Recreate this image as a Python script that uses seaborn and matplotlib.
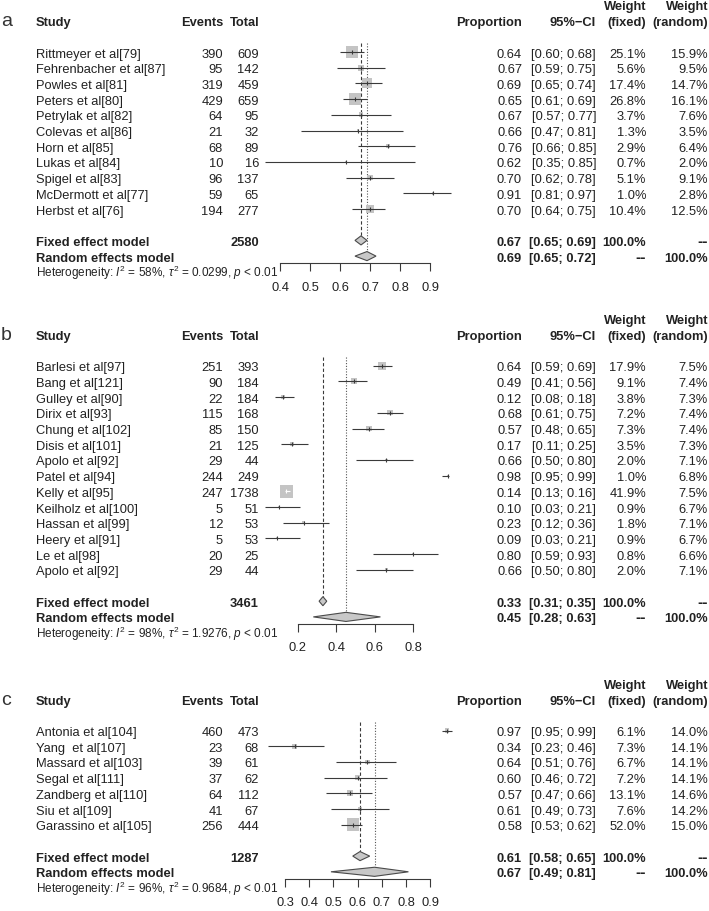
import numpy as np
import pandas as pd
import seaborn as sns
import matplotlib.pyplot as plt
import matplotlib.transforms as mtransforms

# ---------------- panel a ----------------
a_study = ["Rittmeyer et al[79]", "Fehrenbacher et al[87]", "Powles et al[81]", "Peters et al[80]",
           "Petrylak et al[82]", "Colevas et al[86]", "Horn et al[85]", "Lukas et al[84]",
           "Spigel et al[83]", "McDermott et al[77]", "Herbst et al[76]"]
a_events = [390, 95, 319, 429, 64, 21, 68, 10, 96, 59, 194]
a_total = [609, 142, 459, 659, 95, 32, 89, 16, 137, 65, 277]
a_prop = [0.64, 0.67, 0.69, 0.65, 0.67, 0.66, 0.76, 0.62, 0.70, 0.91, 0.70]
a_lo = [0.60, 0.59, 0.65, 0.61, 0.57, 0.47, 0.66, 0.35, 0.62, 0.81, 0.64]
a_hi = [0.68, 0.75, 0.74, 0.69, 0.77, 0.81, 0.85, 0.85, 0.78, 0.97, 0.75]
a_wfix = [25.1, 5.6, 17.4, 26.8, 3.7, 1.3, 2.9, 0.7, 5.1, 1.0, 10.4]
a_wran = [15.9, 9.5, 14.7, 16.1, 7.6, 3.5, 6.4, 2.0, 9.1, 2.8, 12.5]
a_fixed = [0.67, 0.65, 0.69]
a_random = [0.69, 0.65, 0.72]
a_n = 2580
a_het = r"Heterogeneity: $I^2$ = 58%, $\tau^2$ = 0.0299, $p$ < 0.01"
a_ticks = [0.4, 0.5, 0.6, 0.7, 0.8, 0.9]

# ---------------- panel b ----------------
b_study = ["Barlesi et al[97]", "Bang et al[121]", "Gulley et al[90]", "Dirix et al[93]",
           "Chung et al[102]", "Disis et al[101]", "Apolo et al[92]", "Patel et al[94]",
           "Kelly et al[95]", "Keilholz et al[100]", "Hassan et al[99]", "Heery et al[91]",
           "Le et al[98]", "Apolo et al[92]"]
b_events = [251, 90, 22, 115, 85, 21, 29, 244, 247, 5, 12, 5, 20, 29]
b_total = [393, 184, 184, 168, 150, 125, 44, 249, 1738, 51, 53, 53, 25, 44]
b_prop = [0.64, 0.49, 0.12, 0.68, 0.57, 0.17, 0.66, 0.98, 0.14, 0.10, 0.23, 0.09, 0.80, 0.66]
b_lo = [0.59, 0.41, 0.08, 0.61, 0.48, 0.11, 0.50, 0.95, 0.13, 0.03, 0.12, 0.03, 0.59, 0.50]
b_hi = [0.69, 0.56, 0.18, 0.75, 0.65, 0.25, 0.80, 0.99, 0.16, 0.21, 0.36, 0.21, 0.93, 0.80]
b_wfix = [17.9, 9.1, 3.8, 7.2, 7.3, 3.5, 2.0, 1.0, 41.9, 0.9, 1.8, 0.9, 0.8, 2.0]
b_wran = [7.5, 7.4, 7.3, 7.4, 7.4, 7.3, 7.1, 6.8, 7.5, 6.7, 7.1, 6.7, 6.6, 7.1]
b_fixed = [0.33, 0.31, 0.35]
b_random = [0.45, 0.28, 0.63]
b_n = 3461
b_het = r"Heterogeneity: $I^2$ = 98%, $\tau^2$ = 1.9276, $p$ < 0.01"
b_ticks = [0.2, 0.4, 0.6, 0.8]

# ---------------- panel c ----------------
c_study = ["Antonia et al[104]", "Yang  et al[107]", "Massard et al[103]", "Segal et al[111]",
           "Zandberg et al[110]", "Siu et al[109]", "Garassino et al[105]"]
c_events = [460, 23, 39, 37, 64, 41, 256]
c_total = [473, 68, 61, 62, 112, 67, 444]
c_prop = [0.97, 0.34, 0.64, 0.60, 0.57, 0.61, 0.58]
c_lo = [0.95, 0.23, 0.51, 0.46, 0.47, 0.49, 0.53]
c_hi = [0.99, 0.46, 0.76, 0.72, 0.66, 0.73, 0.62]
c_wfix = [6.1, 7.3, 6.7, 7.2, 13.1, 7.6, 52.0]
c_wran = [14.0, 14.1, 14.1, 14.1, 14.6, 14.2, 15.0]
c_fixed = [0.61, 0.58, 0.65]
c_random = [0.67, 0.49, 0.81]
c_n = 1287
c_het = r"Heterogeneity: $I^2$ = 96%, $\tau^2$ = 0.9684, $p$ < 0.01"
c_ticks = [0.3, 0.4, 0.5, 0.6, 0.7, 0.8, 0.9]

sns.set_style("white")
plt.rcParams['font.family'] = ['Liberation Sans', 'DejaVu Sans']
plt.rcParams['mathtext.fontset'] = 'custom'
plt.rcParams['mathtext.rm'] = 'Liberation Sans'
plt.rcParams['mathtext.it'] = 'Liberation Sans:italic'
plt.rcParams['mathtext.bf'] = 'Liberation Sans:bold'

W, H = 709, 912
fig = plt.figure(figsize=(W / 100, H / 100), dpi=100)

ROW = 15.7          # row height in pixels
fs = 9.3            # regular text
fs_b = 9.3          # bold text
txt_col = '#222222'
line_col = '#3a3a3a'
sq_col = '#c4c4c4'
sq_max_px = 12.5
base_off = 0.29     # baseline offset (rows) so text is centred on the row

# column positions (pixels)
X_STUDY, X_EVENTS, X_TOTAL = 36, 223, 259
X_PROP, X_CI, X_WF, X_WR = 522, 596, 646, 708


def draw_panel(label, study, events, total, prop, lo, hi, wfix, wran,
               fixed, random, n_tot, het, ticks, p0, v0, scale, first_px):
    n = len(study)
    fixed_row, random_row, het_row = n + 1, n + 2, n + 3
    axis_row = random_row + 0.45
    top_row = -1.0
    top_px = first_px + top_row * ROW
    axis_px = first_px + axis_row * ROW
    left_px, right_px = 240, 470

    ax = fig.add_axes([left_px / W, 1 - axis_px / H, (right_px - left_px) / W,
                       (axis_px - top_px) / H])
    ax.set_facecolor('none')
    tr = mtransforms.blended_transform_factory(fig.transFigure, ax.transData)

    def put(px, row, s, ha='right', bold=False, size=None, color=txt_col):
        if size is None:
            size = fs_b if bold else fs
        ax.text(px / W, row + base_off, s, transform=tr, ha=ha, va='baseline',
                fontsize=size, fontweight='bold' if bold else 'normal', color=color)

    # headers
    put(1, -2, label, ha='left', size=14, color='#333333')
    put(X_STUDY, -2, "Study", ha='left', bold=True)
    put(X_EVENTS, -2, "Events", bold=True)
    put(X_TOTAL, -2, "Total", bold=True)
    put(X_PROP, -2, "Proportion", bold=True)
    put(X_CI, -2, "95%\u2212CI", bold=True)
    put(X_WF, -3, "Weight", bold=True)
    put(X_WF, -2, "(fixed)", bold=True)
    put(X_WR, -3, "Weight", bold=True)
    put(X_WR, -2, "(random)", bold=True)

    rows = np.arange(n)
    for i in range(n):
        put(X_STUDY, i, study[i], ha='left')
        put(X_EVENTS, i, f"{events[i]}")
        put(X_TOTAL, i, f"{total[i]}")
        put(X_PROP, i, f"{prop[i]:.2f}")
        put(X_CI, i, f"[{lo[i]:.2f}; {hi[i]:.2f}]")
        put(X_WF, i, f"{wfix[i]:.1f}%")
        put(X_WR, i, f"{wran[i]:.1f}%")

    # summary rows
    put(X_STUDY, fixed_row, "Fixed effect model", ha='left', bold=True)
    put(X_TOTAL, fixed_row, f"{n_tot}", bold=True)
    put(X_PROP, fixed_row, f"{fixed[0]:.2f}", bold=True)
    put(X_CI, fixed_row, f"[{fixed[1]:.2f}; {fixed[2]:.2f}]", bold=True)
    put(X_WF, fixed_row, "100.0%", bold=True)
    put(X_WR, fixed_row, "--", bold=True, size=fs + 2)
    put(X_STUDY, random_row, "Random effects model", ha='left', bold=True)
    put(X_PROP, random_row, f"{random[0]:.2f}", bold=True)
    put(X_CI, random_row, f"[{random[1]:.2f}; {random[2]:.2f}]", bold=True)
    put(X_WF, random_row, "--", bold=True, size=fs + 2)
    put(X_WR, random_row, "100.0%", bold=True)
    put(X_STUDY, het_row, het, ha='left', size=8.5)

    # squares sized by fixed weight (area proportional to weight)
    df = pd.DataFrame({"prop": prop, "row": rows, "w": wfix})
    wmax = max(wfix)
    smax = (sq_max_px * 0.72) ** 2
    sns.scatterplot(data=df, x="prop", y="row", size="w", sizes=(0, smax),
                    size_norm=(0, wmax), marker='s', color=sq_col, linewidth=0,
                    legend=False, ax=ax, zorder=1)

    # CI lines: white if fully inside the square
    sq_px = np.sqrt(np.array(wfix) / wmax) * sq_max_px
    ci_px = (np.array(hi) - np.array(lo)) * scale
    inside = ci_px < sq_px
    for i in range(n):
        c = 'white' if inside[i] else line_col
        ax.hlines(i, lo[i], hi[i], color=c, lw=0.8, zorder=2)
        ax.plot(prop[i], i, marker='|', ms=3, mew=0.8, color=c, zorder=3)

    # reference lines
    dh = 0.29
    ax.vlines(fixed[0], -0.55, fixed_row - dh, color=line_col, lw=0.8,
              linestyles=(0, (3, 2)), zorder=0)
    ax.vlines(random[0], -0.55, random_row - dh, color='#555555', lw=0.8,
              linestyles=(0, (1, 1.5)), zorder=0)

    # diamonds
    for est, r in ((fixed, fixed_row), (random, random_row)):
        ax.fill([est[1], est[0], est[2], est[0]], [r, r - dh, r, r + dh],
                facecolor='#c8c8c8', edgecolor='#4a4a4a', lw=0.8, zorder=3)

    # axes scale
    ax.set_xlim(v0 + (left_px - p0) / scale, v0 + (right_px - p0) / scale)
    ax.set_ylim(axis_row, top_row)
    ax.set_xlabel("")
    ax.set_ylabel("")
    ax.set_yticks([])
    ax.set_xticks(ticks)
    ax.set_xticklabels([f"{t:.1f}" for t in ticks])
    for s in ['top', 'left', 'right']:
        ax.spines[s].set_visible(False)
    ax.spines['bottom'].set_bounds(ticks[0], ticks[-1])
    ax.spines['bottom'].set_color(line_col)
    ax.spines['bottom'].set_linewidth(0.8)
    ax.tick_params(axis='x', direction='out', length=5.6, width=0.8, color=line_col,
                   labelsize=9.3, labelcolor=txt_col, pad=7, bottom=True)
    return ax


draw_panel("a", a_study, a_events, a_total, a_prop, a_lo, a_hi, a_wfix, a_wran,
           a_fixed, a_random, a_n, a_het, a_ticks, p0=280, v0=0.4, scale=300, first_px=53)
draw_panel("b", b_study, b_events, b_total, b_prop, b_lo, b_hi, b_wfix, b_wran,
           b_fixed, b_random, b_n, b_het, b_ticks, p0=298, v0=0.2, scale=191.7, first_px=366.7)
draw_panel("c", c_study, c_events, c_total, c_prop, c_lo, c_hi, c_wfix, c_wran,
           c_fixed, c_random, c_n, c_het, c_ticks, p0=285, v0=0.3, scale=242, first_px=731.5)

fig.savefig("out.png", dpi=100)
